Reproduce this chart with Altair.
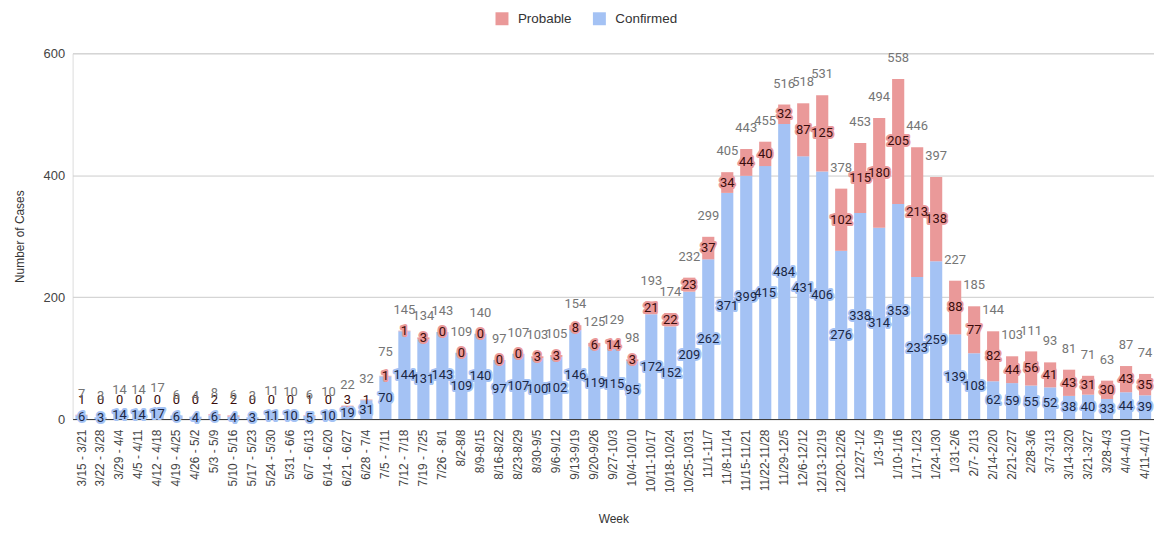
import altair as alt
import pandas as pd

weeks = ["3/15 - 3/21", "3/22 - 3/28", "3/29 - 4/4", "4/5 - 4/11", "4/12 - 4/18", "4/19 - 4/25",
         "4/26 - 5/2", "5/3 - 5/9", "5/10 - 5/16", "5/17 - 5/23", "5/24 - 5/30", "5/31 - 6/6",
         "6/7 - 6/13", "6/14 - 6/20", "6/21 - 6/27", "6/28 - 7/4", "7/5 - 7/11", "7/12 - 7/18",
         "7/19 - 7/25", "7/26 - 8/1", "8/2-8/8", "8/9-8/15", "8/16-8/22", "8/23-8/29",
         "8/30-9/5", "9/6-9/12", "9/13-9/19", "9/20-9/26", "9/27-10/3", "10/4-10/10",
         "10/11-10/17", "10/18-10/24", "10/25-10/31", "11/1-11/7", "11/8-11/14", "11/15-11/21",
         "11/22-11/28", "11/29-12/5", "12/6-12/12", "12/13-12/19", "12/20-12/26", "12/27-1/2",
         "1/3-1/9", "1/10-1/16", "1/17-1/23", "1/24-1/30", "1/31-2/6", "2/7- 2/13",
         "2/14-2/20", "2/21-2/27", "2/28-3/6", "3/7-3/13", "3/14-3/20", "3/21-3/27",
         "3/28-4/3", "4/4-4/10", "4/11-4/17"]

confirmed = [6, 3, 14, 14, 17, 6, 4, 6, 4, 3, 11, 10, 5, 10, 19, 31, 70, 144, 131, 143,
             109, 140, 97, 107, 100, 102, 146, 119, 115, 95, 172, 152, 209, 262, 371, 399,
             415, 484, 431, 406, 276, 338, 314, 353, 233, 259, 139, 108, 62, 59, 55, 52,
             38, 40, 33, 44, 39]

probable = [1, 0, 0, 0, 0, 0, 0, 2, 2, 0, 0, 0, 1, 0, 3, 1, 1, 1, 3, 0,
            0, 0, 0, 0, 3, 3, 8, 6, 14, 3, 21, 22, 23, 37, 34, 44,
            40, 32, 87, 125, 102, 115, 180, 205, 213, 138, 88, 77, 82, 44, 56, 41,
            43, 31, 30, 43, 35]

totals = [7, 3, 14, 14, 17, 6, 4, 8, 6, 3, 11, 10, 6, 10, 22, 32, 75, 145, 134, 143,
          109, 140, 97, 107, 103, 105, 154, 125, 129, 98, 193, 174, 232, 299, 405, 443,
          455, 516, 518, 531, 378, 453, 494, 558, 446, 397, 227, 185, 144, 103, 111, 93,
          81, 71, 63, 87, 74]

series = ["Probable", "Confirmed"]
colors = ["#ea9999", "#a4c2f4"]

rows = []
for w, c, p in zip(weeks, confirmed, probable):
    rows.append({"week": w, "series": "Confirmed", "value": c, "ord": 0})
    rows.append({"week": w, "series": "Probable", "value": p, "ord": 1})
df = pd.DataFrame(rows)
tot_df = pd.DataFrame({"week": weeks, "total": totals})

AXFONT = "Liberation Sans"
LBFONT = "Roboto"

xenc = alt.X("week:N", sort=weeks, title="Week",
             scale=alt.Scale(paddingInner=0.36, paddingOuter=0.15),
             axis=alt.Axis(labelAngle=-90, labelFontSize=12, labelColor="#444444",
                           labelFont=AXFONT, ticks=False, domainColor="#333333",
                           labelPadding=10, titleFont=AXFONT, titleFontSize=12,
                           titleFontWeight="normal", titleColor="#333333", titlePadding=21))

yscale = alt.Scale(domain=[0, 600])

bars = alt.Chart(df).mark_bar().encode(
    x=xenc,
    y=alt.Y("value:Q", stack="zero", scale=yscale, title="Number of Cases",
            axis=alt.Axis(values=[0, 200, 400, 600], grid=True, gridColor="#cccccc",
                          domain=False, ticks=False, labelFontSize=13, labelColor="#444444",
                          labelFont=AXFONT, labelPadding=8, titleFont=AXFONT,
                          titleFontSize=12, titleFontWeight="normal", titleColor="#333333",
                          titlePadding=17)),
    color=alt.Color("series:N", scale=alt.Scale(domain=series, range=colors),
                    legend=alt.Legend(title=None, orient="none", direction="horizontal",
                                      legendX=425, legendY=-42, symbolType="square",
                                      symbolSize=170, symbolStrokeWidth=0, labelFont=AXFONT,
                                      labelFontSize=13.5, labelColor="#333333", labelOffset=9,
                                      columnPadding=20)),
    order=alt.Order("ord:Q"),
)

stacked = alt.Chart(df).transform_stack(
    stack="value", groupby=["week"], as_=["y0", "y1"], sort=[alt.SortField("ord")]
).transform_calculate(
    rawmid="(datum.y0 + datum.y1) / 2",
    mid="datum.series == 'Probable' ? max((datum.y0 + datum.y1) / 2, 32) : (datum.y0 + datum.y1) / 2",
    lbl="datum.value + ''"
)

enc = dict(x=alt.X("week:N", sort=weeks), y=alt.Y("mid:Q", scale=yscale), text="lbl:N")

conf = stacked.transform_filter(alt.datum.series == "Confirmed")
conf_halo = conf.mark_text(font=LBFONT, fontSize=13, stroke="#a4c2f4", strokeWidth=4,
                           strokeJoin="round", color="#a4c2f4", baseline="middle").encode(**enc)
conf_txt = conf.mark_text(font=LBFONT, fontSize=13, color="#1a2744",
                          baseline="middle").encode(**enc)

prob = stacked.transform_filter(alt.datum.series == "Probable")
prob_halo = prob.transform_filter("datum.rawmid >= 32").mark_text(
    font=LBFONT, fontSize=13, stroke="#ea9999", strokeWidth=4, strokeJoin="round",
    color="#ea9999", baseline="middle").encode(**enc)
prob_txt = prob.mark_text(font=LBFONT, fontSize=13, color="#3a0c0c",
                          baseline="middle").encode(**enc)

tot_lbl = alt.Chart(tot_df).mark_text(font=LBFONT, fontSize=13, color="#757575",
                                      baseline="middle", dy=-21).encode(
    x=alt.X("week:N", sort=weeks),
    y=alt.Y("total:Q", scale=yscale),
    text="total:Q",
)

chart = alt.layer(bars, conf_halo, conf_txt, prob_halo, prob_txt, tot_lbl).properties(
    width=1088, height=368,
    padding={"left": 5, "top": 2, "right": 0, "bottom": 0}
).configure_view(stroke=None).configure(background="white")

chart.save("out.html", embed_options={"renderer": "svg", "actions": False})
